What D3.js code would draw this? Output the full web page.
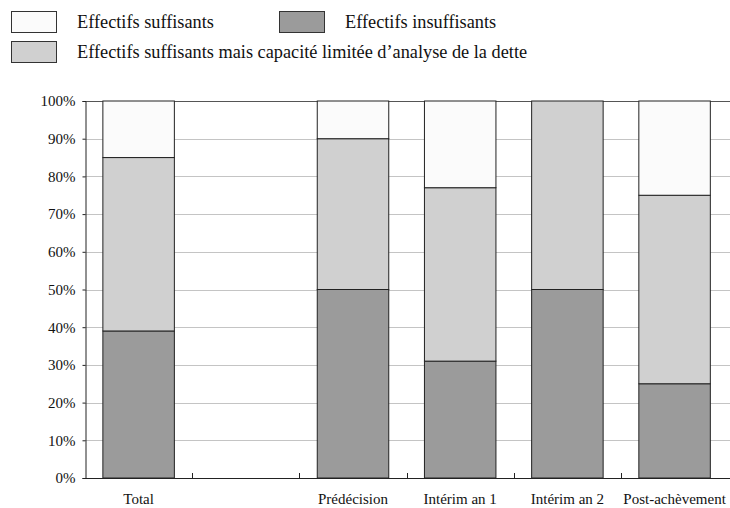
<!DOCTYPE html>
<html>
<head>
<meta charset="utf-8">
<script src="https://cdn.jsdelivr.net/npm/d3@7"></script>
<style>
  body { margin: 0; background: #fff; }
  svg text { font-family: "Liberation Serif", "Times New Roman", Times, "DejaVu Serif", serif; fill: #111; }
</style>
</head>
<body>
<script>
var width = 730,
    height = 508;

// slot "" is the empty gap after Total
var categories = ["Total", "", "Prédécision", "Intérim an 1", "Intérim an 2", "Post-achèvement"];
var insuffisants = [39, null, 50, 31, 50, 25];
var limites = [46, null, 40, 46, 50, 50];
var suffisants = [15, null, 10, 23, 0, 25];
var yTicks = [0, 10, 20, 30, 40, 50, 60, 70, 80, 90, 100];
var seriesNames = ["Effectifs suffisants", "Effectifs insuffisants",
    "Effectifs suffisants mais capacité limitée d\u2019analyse de la dette"];
var color = {insuff: "#9b9b9b", limit: "#d0d0d0", suff: "#fbfbfb"};
var serif = "'Liberation Serif', 'Times New Roman', Times, serif";

var svg = d3.select("body").append("svg")
    .attr("width", width)
    .attr("height", height);

var plotLeft = 85, plotTop = 101, plotBottom = 478;

var x = d3.scaleBand().domain(categories)
    .range([plotLeft, plotLeft + 6 * 107.2])
    .paddingInner(0.333).paddingOuter(0.1667);
var y = d3.scaleLinear().domain([0, 100]).range([plotBottom, plotTop]);

// gridlines
svg.append("g").selectAll("line").data(yTicks.slice(1, -1))
  .enter().append("line")
    .attr("x1", plotLeft).attr("x2", width)
    .attr("y1", function (d) { return Math.round(y(d)) + 0.5; })
    .attr("y2", function (d) { return Math.round(y(d)) + 0.5; })
    .attr("stroke", "#c4c4c4").attr("stroke-width", 1);
svg.append("line")
    .attr("x1", plotLeft).attr("x2", width)
    .attr("y1", plotTop + 0.5).attr("y2", plotTop + 0.5)
    .attr("stroke", "#555").attr("stroke-width", 1);

// stacked bars
var rows = [];
for (var i = 0; i < categories.length; i++) {
    if (insuffisants[i] == null) continue;
    var a = insuffisants[i], b = a + limites[i], c = b + suffisants[i];
    rows.push({cat: categories[i], y0: 0, y1: a, fill: color.insuff});
    rows.push({cat: categories[i], y0: a, y1: b, fill: color.limit});
    if (suffisants[i] > 0)
        rows.push({cat: categories[i], y0: b, y1: c, fill: color.suff});
}
svg.append("g").selectAll("rect").data(rows)
  .enter().append("rect")
    .attr("x", function (d) { return x(d.cat); })
    .attr("width", x.bandwidth())
    .attr("y", function (d) { return y(d.y1); })
    .attr("height", function (d) { return y(d.y0) - y(d.y1); })
    .attr("fill", function (d) { return d.fill; })
    .attr("stroke", "#222").attr("stroke-width", 1);

// y axis
var yAxis = svg.append("g")
    .attr("transform", "translate(" + (plotLeft + 0.5) + ",0)")
    .call(d3.axisLeft(y).tickValues(yTicks).tickSize(3).tickPadding(7)
        .tickFormat(function (d) { return d + "%"; }));
yAxis.attr("font-family", serif);
yAxis.select(".domain").attr("stroke", "#222");
yAxis.selectAll(".tick line").attr("stroke", "#222");
yAxis.selectAll("text").attr("font-size", 15).attr("fill", "#111");

// x axis
var xAxis = svg.append("g")
    .attr("transform", "translate(0," + (plotBottom + 0.5) + ")")
    .call(d3.axisBottom(x).tickSize(0).tickPadding(15));
xAxis.attr("font-family", serif);
xAxis.select(".domain").attr("stroke", "#222").attr("d", "M" + plotLeft + ",0H" + width);
xAxis.selectAll("text").attr("font-size", 15).attr("fill", "#111");
// small ticks between slots
var step = x.step();
svg.append("g").selectAll("line").data(d3.range(1, 6))
  .enter().append("line")
    .attr("x1", function (d) { return Math.round(plotLeft + d * step) + 0.5; })
    .attr("x2", function (d) { return Math.round(plotLeft + d * step) + 0.5; })
    .attr("y1", plotBottom).attr("y2", plotBottom - 5)
    .attr("stroke", "#222");

// legend
var legend = [
    {name: seriesNames[0], fill: color.suff, x: 11, y: 11},
    {name: seriesNames[1], fill: color.insuff, x: 279, y: 11},
    {name: seriesNames[2], fill: color.limit, x: 11, y: 41}
];
var lg = svg.append("g").attr("font-family", serif)
  .selectAll("g").data(legend).enter().append("g");
lg.append("rect")
    .attr("x", function (d) { return d.x + 0.5; })
    .attr("y", function (d) { return d.y + 0.5; })
    .attr("width", 45).attr("height", 21)
    .attr("fill", function (d) { return d.fill; })
    .attr("stroke", "#333");
lg.append("text")
    .attr("x", function (d) { return d.x + 66; })
    .attr("y", function (d) { return d.y + 17; })
    .attr("font-size", 18.3)
    .text(function (d) { return d.name; });
</script>
</body>
</html>
